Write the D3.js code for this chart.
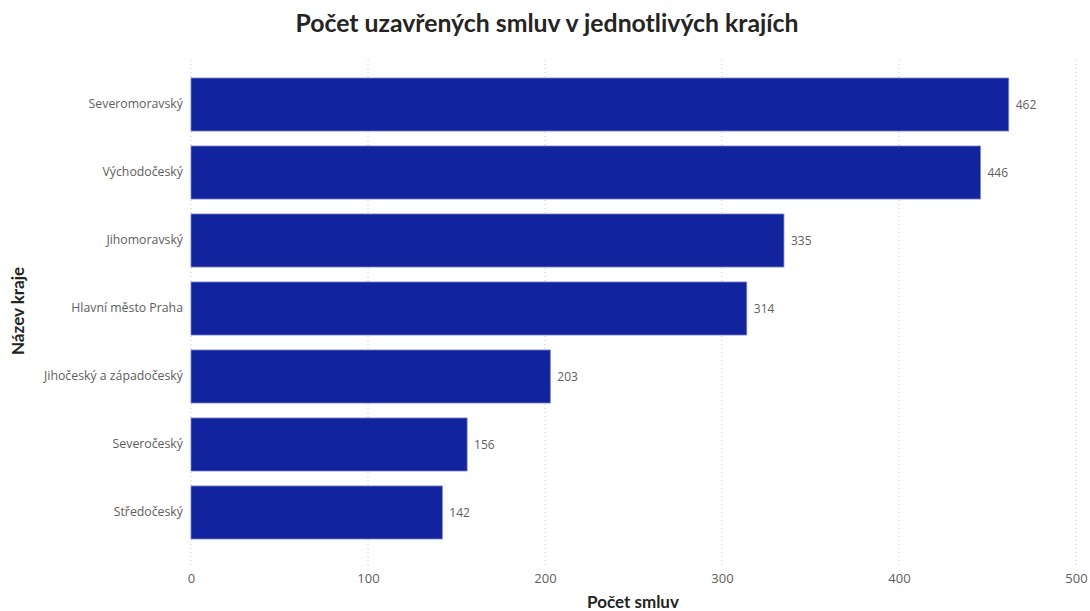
<!DOCTYPE html>
<html><head><meta charset="utf-8">
<script src="https://cdn.jsdelivr.net/npm/d3@7"></script>
<style>body{margin:0;background:#fff}</style>
</head><body>
<svg id="c" width="1090" height="611"></svg>
<script>
const categories = ["Severomoravský","Východočeský","Jihomoravský","Hlavní město Praha","Jihočeský a západočeský","Severočeský","Středočeský"];
const values = [462,446,335,314,203,156,142];
const xTicks = [0,100,200,300,400,500];

const svg = d3.select("#c");
const font = "'Open Sans', sans-serif";
const x = d3.scaleLinear().domain([0,500]).range([191,1076]);
const y = d3.scaleBand().domain(categories).range([61,556]).paddingInner(0.22).paddingOuter(0.25);

// gridlines
svg.append("g").selectAll("line").data(xTicks).join("line")
  .attr("x1",d=>x(d)).attr("x2",d=>x(d)).attr("y1",60).attr("y2",567)
  .attr("stroke","#c8c8c8").attr("stroke-width",1).attr("stroke-dasharray","1,3");

// bars
svg.append("g").selectAll("rect").data(categories).join("rect")
  .attr("x",x(0)).attr("y",d=>y(d))
  .attr("width",(d,i)=>x(values[i])-x(0)).attr("height",y.bandwidth())
  .attr("fill","#12239E").attr("stroke","#7a83c8").attr("stroke-width",0.8);

// value labels
svg.append("g").selectAll("text").data(categories).join("text")
  .attr("x",(d,i)=>x(values[i])+7).attr("y",d=>y(d)+y.bandwidth()/2)
  .attr("dy","0.35em").attr("font-family",font).attr("font-size",12)
  .attr("fill","#605E5C").text((d,i)=>values[i]);

// y axis labels
const ya = svg.append("g").attr("transform",`translate(${x(0)},0)`).call(d3.axisLeft(y).tickSize(0).tickPadding(8));
ya.select(".domain").remove();
ya.selectAll("text").attr("font-family",font).attr("font-size",12.3).attr("fill","#605E5C");

// x axis labels
const xa = svg.append("g").attr("transform","translate(0,568)").call(d3.axisBottom(x).tickValues(xTicks).tickSize(0).tickPadding(6));
xa.select(".domain").remove();
xa.selectAll("text").attr("font-family",font).attr("font-size",13).attr("fill","#605E5C");

// titles
svg.append("text").attr("x",547).attr("y",32).attr("text-anchor","middle")
  .attr("font-family","Lato, sans-serif").attr("font-weight","bold").attr("font-size",24.8)
  .attr("fill","#252423").text("Počet uzavřených smluv v jednotlivých krajích");
svg.append("text").attr("x",633).attr("y",608).attr("text-anchor","middle")
  .attr("font-family","Lato, sans-serif").attr("font-weight","bold").attr("font-size",17)
  .attr("fill","#252423").text("Počet smluv");
svg.append("text").attr("transform","translate(24,311) rotate(-90)").attr("text-anchor","middle")
  .attr("font-family","Lato, sans-serif").attr("font-weight","bold").attr("font-size",17)
  .attr("fill","#252423").text("Název kraje");
</script>
</body></html>
